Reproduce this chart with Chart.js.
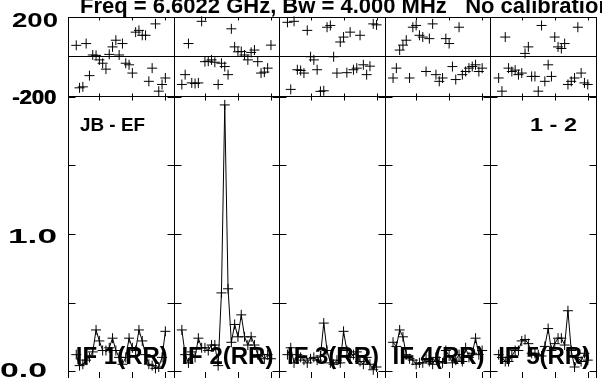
<!DOCTYPE html>
<html><head><meta charset="utf-8">
<script src="https://cdn.jsdelivr.net/npm/chart.js@4/dist/chart.umd.min.js"></script>
<style>html,body{margin:0;padding:0;background:#fff;overflow:hidden}canvas{display:block}</style>
</head><body>
<canvas id="c" width="602" height="384"></canvas>
<script>
// ---- data ----
const title = "Freq = 6.6022 GHz, Bw = 4.000 MHz   No calibration";
const baselineLabel = "JB - EF";
const stokesLabel = "1 - 2";
const ifLabels = ["IF 1(RR)", "IF 2(RR)", "IF 3(RR)", "IF 4(RR)", "IF 5(RR)"];
const channels = [3,4,5,6,7,8,9,10,11,12,13,14,15,16,17,18,19,20,21,22,23,24,25,26,27,28,29,30];
const nChanPerIF = 32;
const xTickChannels = [10, 20, 30];
const ampTicks = [0, 0.5, 1.0, 1.5, 2.0];
const ampTickLabels = ["0.0", "1.0"];
const phaseTickLabels = ["200", "-200"];

const ampIF1 = [0.12,0.04,0.05,0.08,0.10,0.14,0.30,0.22,0.15,0.15,0.17,0.24,0.15,0.10,0.05,0.10,0.24,0.17,0.15,0.30,0.22,0.12,0.05,0.04,0.02,0.03,0.10,0.29];
const ampIF2 = [0.30,0.12,0.06,0.14,0.10,0.24,0.17,0.17,0.15,0.19,0.19,0.04,0.57,1.94,0.60,0.21,0.34,0.25,0.41,0.25,0.19,0.25,0.19,0.12,0.12,0.09,0.12,0.09];
const ampIF3 = [0.12,0.17,0.06,0.12,0.10,0.08,0.06,0.09,0.10,0.08,0.11,0.35,0.15,0.06,0.05,0.08,0.06,0.29,0.15,0.10,0.12,0.14,0.07,0.05,0.10,0.05,0.01,0.03];
const ampIF4 = [0.21,0.18,0.30,0.25,0.12,0.09,0.08,0.05,0.06,0.06,0.09,0.07,0.05,0.10,0.07,0.06,0.15,0.11,0.06,0.08,0.12,0.07,0.17,0.10,0.13,0.24,0.12,0.15];
const ampIF5 = [0.12,0.10,0.07,0.07,0.11,0.15,0.15,0.22,0.23,0.20,0.13,0.13,0.12,0.11,0.18,0.31,0.15,0.20,0.24,0.24,0.19,0.44,0.15,0.03,0.10,0.07,0.13,0.08];

const phIF1 = [56,-160,-155,65,-98,7,5,-18,-35,-65,10,48,82,7,65,-35,-43,-85,123,132,107,107,-127,-60,165,-177,-143,-110];
const phIF2 = [-143,-93,65,-135,-138,-135,178,-27,-25,-18,-30,-143,-35,-52,-93,140,48,23,25,7,-18,20,32,-27,-85,-80,-60,57];
const phIF3 = [173,-168,178,-68,-72,-85,132,-2,-18,-68,-178,-175,148,157,-2,-85,73,98,-83,123,-68,-60,107,-43,-93,-50,165,160];
const phIF4 = [-110,-60,32,57,82,-110,148,157,107,98,-77,90,165,-93,-127,-110,90,65,-52,-118,148,-93,-77,-60,-52,-43,-77,-60];
const phIF5 = [-110,-177,98,-60,-77,-70,-93,-85,15,48,-102,-102,-177,157,-127,-43,-102,98,48,40,65,-143,-127,-110,148,-85,-135,-143];

const ampSeries = [ampIF1, ampIF2, ampIF3, ampIF4, ampIF5];
const phSeries = [phIF1, phIF2, phIF3, phIF4, phIF5];

// ---- build datasets ----
const datasets = [];
ampSeries.forEach((arr, k) => {
  datasets.push({
    data: channels.map((c, i) => ({x: k * nChanPerIF + c, y: arr[i]})),
    yAxisID: 'yAmp', showLine: true, borderColor: '#000', borderWidth: 1,
    pointStyle: 'cross', pointRadius: 5, pointBorderColor: '#000', pointBorderWidth: 1,
    pointHoverRadius: 0, tension: 0, clip: false
  });
});
phSeries.forEach((arr, k) => {
  datasets.push({
    data: channels.map((c, i) => ({x: k * nChanPerIF + c, y: arr[i]})),
    yAxisID: 'yPh', showLine: false,
    pointStyle: 'cross', pointRadius: 5, pointBorderColor: '#000', pointBorderWidth: 1,
    pointHoverRadius: 0, clip: false
  });
});

function wideText(ctx, str, x, y, size, width, align) {
  ctx.save();
  ctx.font = 'bold ' + size + 'px "Liberation Sans", Arial, sans-serif';
  ctx.textBaseline = 'alphabetic';
  ctx.textAlign = 'left';
  const w = ctx.measureText(str).width;
  const sx = width ? width / w : 1;
  const tw = w * sx;
  let left = x;
  if (align === 'right') left = x - tw;
  else if (align === 'center') left = x - tw / 2;
  ctx.translate(left, y);
  ctx.scale(sx, 1);
  ctx.fillStyle = '#000';
  ctx.fillText(str, 0, 0);
  ctx.restore();
}

const framePlugin = {
  id: 'frame',
  beforeDatasetsDraw(chart) {
    const ctx = chart.ctx;
    const xs = chart.scales.x, ya = chart.scales.yAmp, yp = chart.scales.yPh;
    const top = yp.top, mid = yp.bottom, bot = ya.bottom;
    const r = v => Math.round(v) + 0.5;
    ctx.save();
    ctx.strokeStyle = '#000';
    ctx.lineWidth = 1;
    ctx.beginPath();
    ctx.moveTo(xs.left, r(top)); ctx.lineTo(xs.right, r(top));
    ctx.moveTo(xs.left, r(yp.getPixelForValue(0))); ctx.lineTo(xs.right, r(yp.getPixelForValue(0)));
    ctx.moveTo(xs.left, r(mid)); ctx.lineTo(xs.right, r(mid));
    for (let k = 0; k <= 5; k++) {
      const px = r(xs.getPixelForValue(k * nChanPerIF + 0.5));
      ctx.moveTo(px, top); ctx.lineTo(px, bot);
      ampTicks.forEach(v => {
        const py = r(ya.getPixelForValue(v));
        if (k > 0) { ctx.moveTo(px, py); ctx.lineTo(px - 7, py); }
        if (k < 5) { ctx.moveTo(px, py); ctx.lineTo(px + 7, py); }
      });
    }
    for (let k = 0; k < 5; k++) {
      xTickChannels.forEach(c => {
        const px = r(xs.getPixelForValue(k * nChanPerIF + c));
        ctx.moveTo(px, r(top)); ctx.lineTo(px, r(top) + 3);
        ctx.moveTo(px, r(mid)); ctx.lineTo(px, r(mid) - 3);
        ctx.moveTo(px, r(mid)); ctx.lineTo(px, r(mid) + 4);
        ctx.moveTo(px, bot); ctx.lineTo(px, bot - 6);
      });
    }
    ctx.stroke();
    ctx.restore();
  },
  afterDatasetsDraw(chart) {
    const ctx = chart.ctx;
    const xs = chart.scales.x, ya = chart.scales.yAmp, yp = chart.scales.yPh;
    wideText(ctx, title, 80, 13, 22, null, 'left');
    wideText(ctx, phaseTickLabels[0], 58, yp.getPixelForValue(200) + 10, 20, 46, 'right');
    wideText(ctx, phaseTickLabels[1], 56, yp.getPixelForValue(-200) + 8, 20, 44, 'right');
    wideText(ctx, phaseTickLabels[1], 56.7, yp.getPixelForValue(-200) + 8, 20, 44, 'right');
    wideText(ctx, ampTickLabels[1], 57, ya.getPixelForValue(1.0) + 9, 20, 49, 'right');
    wideText(ctx, ampTickLabels[0], 47, ya.getPixelForValue(0.0) + 6, 20, 47, 'right');
    wideText(ctx, baselineLabel, 80, 131, 18, 65, 'left');
    wideText(ctx, stokesLabel, 577, 131, 18, 47, 'right');
    for (let k = 0; k < 5; k++) {
      const cx = (xs.getPixelForValue(k * nChanPerIF + 0.5) + xs.getPixelForValue((k + 1) * nChanPerIF + 0.5)) / 2;
      wideText(ctx, ifLabels[k], cx + 1, 364, 24, 92, 'center');
    }
  }
};

new Chart(document.getElementById('c'), {
  type: 'scatter',
  data: { datasets },
  options: {
    responsive: false, animation: false, devicePixelRatio: 1,
    events: [],
    layout: { padding: { left: 68, top: 17, right: 1, bottom: 0 } },
    plugins: { legend: { display: false }, tooltip: { enabled: false }, title: { display: false } },
    scales: {
      x: { type: 'linear', min: 0.5, max: 5 * nChanPerIF + 0.5, display: false },
      yAmp: { type: 'linear', position: 'left', stack: 'v', stackWeight: 287, min: -0.0502, max: 2.0072, display: false },
      yPh: { type: 'linear', position: 'left', stack: 'v', stackWeight: 80, min: -200, max: 200, display: false }
    }
  },
  plugins: [framePlugin]
});
</script>
</body></html>
